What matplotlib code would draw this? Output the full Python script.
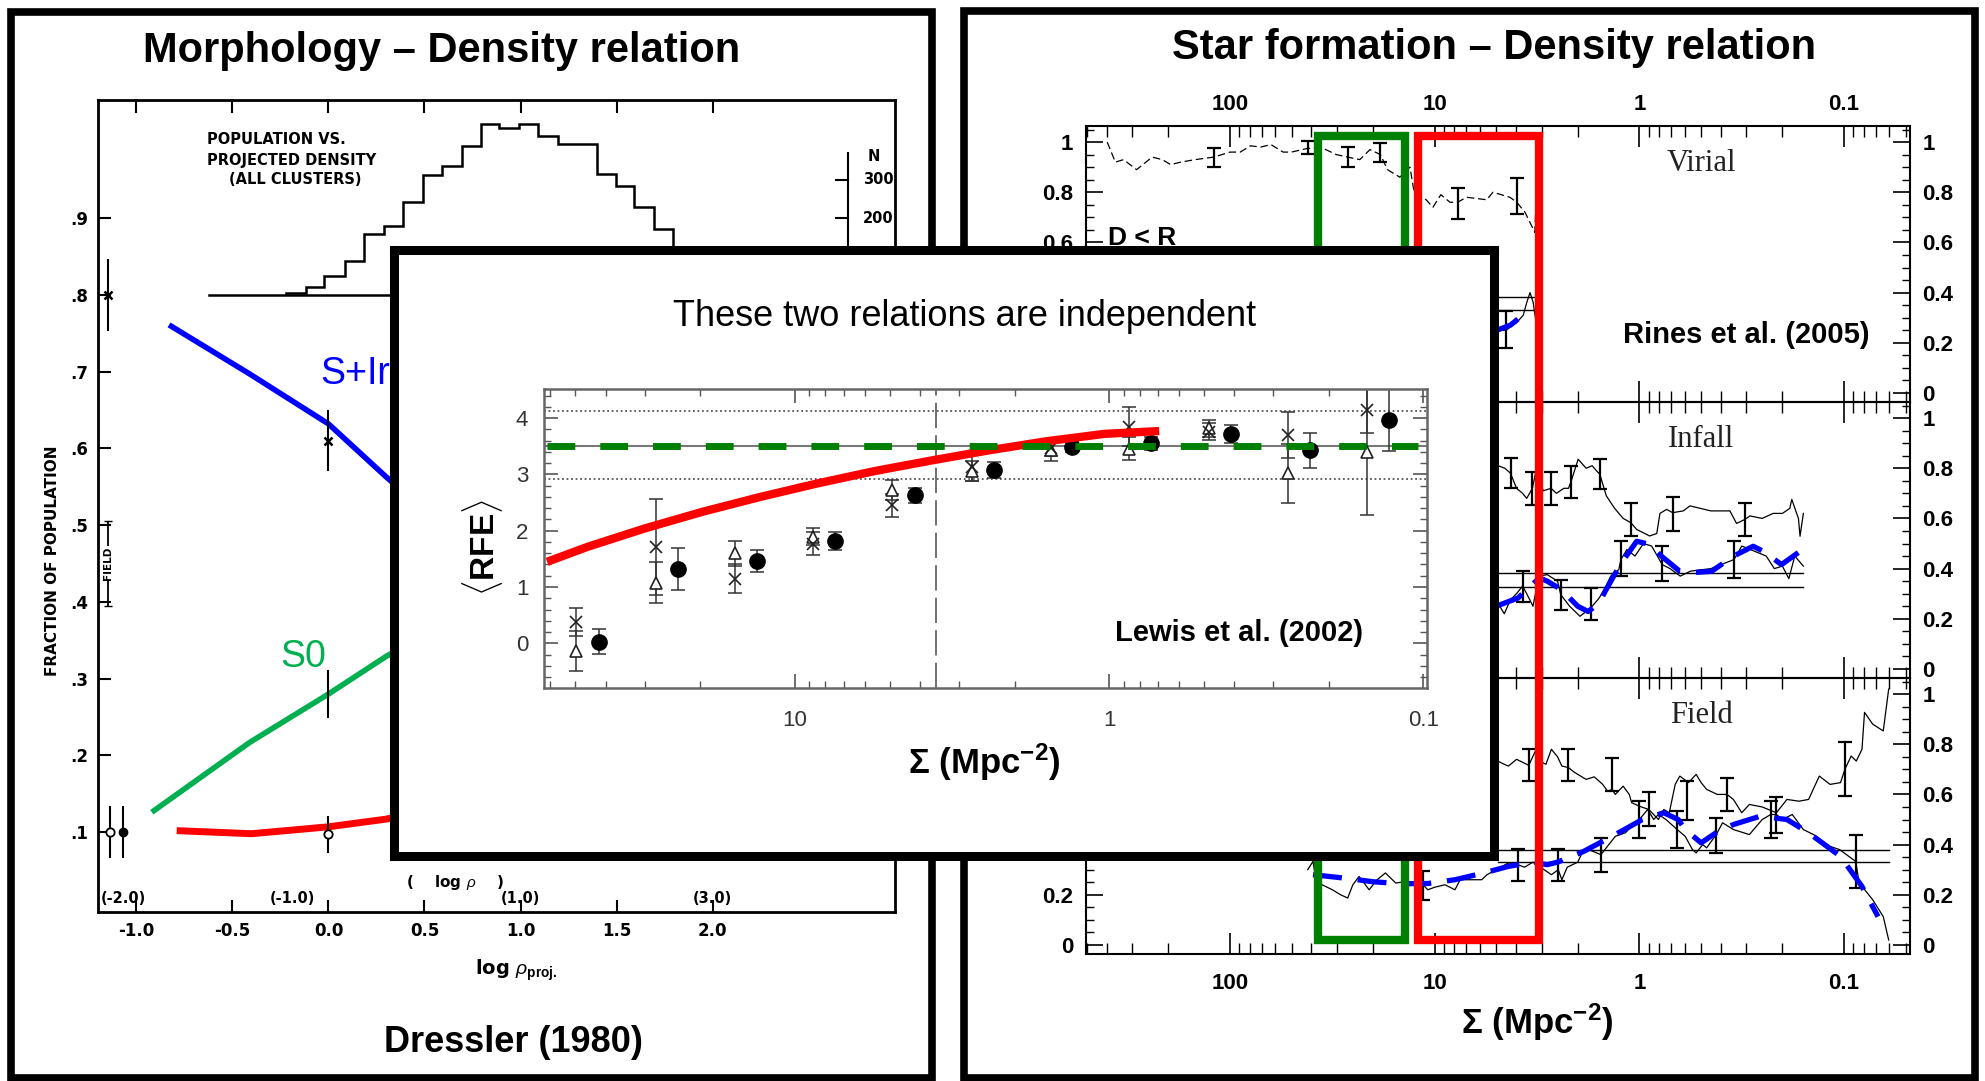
import numpy as np
import matplotlib
matplotlib.use("Agg")
import matplotlib.pyplot as plt
import matplotlib.transforms as mtransforms
from matplotlib.patches import Rectangle
from matplotlib.ticker import LogLocator, MultipleLocator, NullFormatter

plt.rcParams["font.family"] = ["Liberation Sans", "DejaVu Sans"]
plt.rcParams["mathtext.fontset"] = "custom"
plt.rcParams["mathtext.rm"] = "Liberation Sans"
plt.rcParams["mathtext.bf"] = "Liberation Sans:bold"
plt.rcParams["mathtext.it"] = "Liberation Sans:italic"
plt.rcParams["mathtext.default"] = "bf"

W, H = 1985, 1081
SCAN_FONT = ["DejaVu Sans"]

# ---------------- Dressler (1980): morphology vs projected density ----------------
hist_edges = [-0.22, -0.118, -0.025, 0.084, 0.184, 0.287, 0.387, 0.490, 0.590, 0.693,
              0.793, 0.890, 0.990, 1.093, 1.193, 1.396, 1.496, 1.593, 1.693, 1.793, 1.893]
hist_counts = [5, 21, 50, 89, 159, 180, 243, 313, 337, 389,
               446, 436, 446, 415, 394, 316, 285, 230, 172, 110]
hist_base = 0.8        # fraction level of the N = 0 line
hist_scale = 0.0005    # fraction units per galaxy
n_ticks = [200, 300]

sirr_x = [-0.83, -0.41, 0.0, 0.30, 0.45]
sirr_y = [0.761, 0.697, 0.632, 0.563, 0.53]
s0_x = [-0.92, -0.41, 0.0, 0.30, 0.45]
s0_y = [0.126, 0.217, 0.28, 0.329, 0.35]
ell_x = [-0.79, -0.40, 0.0, 0.30, 0.45]
ell_y = [0.102, 0.098, 0.107, 0.117, 0.125]

cross_x, cross_y, cross_err = [-1.15, 0.0], [0.80, 0.61], [0.047, 0.04]
open_x, open_y, open_err = [-1.14, 0.0], [0.10, 0.097], [0.034, 0.024]
dot_x, dot_y, dot_err = [-1.07], [0.10], [0.034]
s0pt_x, s0pt_y, s0pt_err = [0.0], [0.28], [0.031]
field_x, field_y, field_err = -1.148, 0.45, 0.055

# ---------------- Rines et al. (2005): star formation vs density ----------------
vir_up_sig = [398, 363, 331, 286, 240, 214, 195, 174, 148, 120, 100, 89.1, 79.4, 70.8, 63.1,
              55.0, 50.1, 41.7, 35.1, 30.2, 26.6, 23.2, 20.7, 18.4, 17.0, 14.8, 13.2, 12.6,
              11.0, 10.2, 9.33, 8.41, 7.73, 6.98, 5.57, 5.19, 4.29, 3.97, 3.62, 3.24, 3.16]
vir_up_frac = [1.00, 0.92, 0.93, 0.89, 0.94, 0.93, 0.91, 0.92, 0.93, 0.94, 0.96, 0.96, 0.985,
               0.98, 0.99, 0.96, 0.96, 0.975, 0.975, 0.95, 0.94, 0.93, 0.97, 0.95, 0.89, 0.86,
               0.90, 0.80, 0.77, 0.74, 0.79, 0.76, 0.76, 0.78, 0.77, 0.80, 0.78, 0.76, 0.72,
               0.64, 0.88]
vir_up_eb_sig = [120, 41.7, 26.6, 18.4, 7.72, 3.97]
vir_up_eb_frac = [0.94, 0.978, 0.94, 0.958, 0.755, 0.785]
vir_up_eb_err = [0.038, 0.027, 0.04, 0.038, 0.062, 0.073]
vir_lo_sig = [5.25, 4.90, 4.47, 4.17, 3.98, 3.69, 3.55, 3.42, 3.30, 3.18, 3.08]
vir_lo_frac = [0.24, 0.25, 0.25, 0.27, 0.28, 0.31, 0.36, 0.40, 0.36, 0.27, 0.145]
vir_lo_eb_sig, vir_lo_eb_frac, vir_lo_eb_err = [4.47], [0.252], [0.073]
vir_fit_sig = [5.25, 4.89, 4.27, 3.69]
vir_fit_frac = [0.248, 0.252, 0.27, 0.312]
vir_field = [0.381, 0.332]
vir_field_span = [40, 3.1]

inf_up_sig = [5.01, 4.89, 4.54, 4.26, 3.98, 3.72, 3.55, 3.33, 3.18, 2.95, 2.70, 2.54, 2.34,
              2.22, 2.16, 1.99, 1.82, 1.70, 1.62, 1.56, 1.45, 1.32, 1.20, 1.10, 1.03, 0.957,
              0.891, 0.822, 0.793, 0.736, 0.687, 0.610, 0.566, 0.447, 0.361, 0.335, 0.305,
              0.288, 0.251, 0.222, 0.200, 0.184, 0.180, 0.167, 0.164, 0.158]
inf_up_frac = [0.80, 0.81, 0.80, 0.78, 0.72, 0.70, 0.68, 0.72, 0.80, 0.71, 0.72, 0.70, 0.72,
               0.72, 0.745, 0.836, 0.80, 0.81, 0.79, 0.776, 0.69, 0.64, 0.60, 0.583, 0.556,
               0.543, 0.53, 0.54, 0.62, 0.636, 0.623, 0.63, 0.65, 0.63, 0.63, 0.58, 0.596,
               0.61, 0.60, 0.62, 0.62, 0.64, 0.676, 0.60, 0.529, 0.62]
inf_up_eb_sig = [4.26, 3.33, 2.70, 2.16, 1.56, 1.10, 0.687, 0.305]
inf_up_eb_frac = [0.78, 0.72, 0.72, 0.745, 0.776, 0.596, 0.617, 0.596]
inf_up_eb_err = [0.06, 0.067, 0.067, 0.065, 0.06, 0.067, 0.067, 0.067]
inf_lo_sig = [5.01, 4.89, 4.57, 4.26, 3.98, 3.72, 3.55, 3.31, 3.09, 2.82, 2.51, 2.42, 2.19,
              1.95, 1.73, 1.58, 1.48, 1.38, 1.26, 1.23, 1.15, 1.05, 0.955, 0.871, 0.773,
              0.708, 0.631, 0.562, 0.447, 0.345, 0.316, 0.275, 0.240, 0.219, 0.200, 0.186,
              0.174, 0.158]
inf_lo_frac = [0.27, 0.26, 0.22, 0.276, 0.30, 0.33, 0.30, 0.25, 0.37, 0.376, 0.35, 0.296,
               0.25, 0.21, 0.243, 0.28, 0.316, 0.37, 0.396, 0.436, 0.476, 0.45, 0.50, 0.49,
               0.416, 0.40, 0.37, 0.39, 0.40, 0.436, 0.49, 0.47, 0.45, 0.40, 0.41, 0.36,
               0.45, 0.41]
inf_lo_eb_sig = [3.72, 2.42, 1.73, 1.23, 0.773, 0.345]
inf_lo_eb_frac = [0.329, 0.296, 0.26, 0.439, 0.419, 0.436]
inf_lo_eb_err = [0.063, 0.06, 0.063, 0.07, 0.07, 0.073]
inf_fit_sig = [5.01, 3.91, 3.08, 2.82, 2.40, 2.00, 1.78, 1.58, 1.47, 1.24, 1.03, 0.887,
               0.778, 0.634, 0.531, 0.444, 0.348, 0.278, 0.248, 0.202, 0.164]
inf_fit_frac = [0.25, 0.283, 0.363, 0.35, 0.316, 0.25, 0.229, 0.26, 0.309, 0.416, 0.509,
                0.496, 0.449, 0.389, 0.385, 0.389, 0.449, 0.489, 0.469, 0.416, 0.469]
inf_field = [0.383, 0.325]
inf_field_span = [5.1, 0.158]

fld_up_sig = [5.25, 4.92, 4.57, 4.36, 3.98, 3.47, 3.22, 3.02, 2.86, 2.69, 2.51, 2.39, 2.22,
              2.09, 2.00, 1.82, 1.66, 1.51, 1.43, 1.36, 1.31, 1.20, 1.12, 1.09, 1.00, 0.899,
              0.807, 0.759, 0.714, 0.668, 0.634, 0.575, 0.528, 0.499, 0.469, 0.416, 0.373,
              0.347, 0.316, 0.290, 0.251, 0.214, 0.190, 0.166, 0.149, 0.132, 0.117, 0.104,
              0.099, 0.0923, 0.0871, 0.0817, 0.0794, 0.0724, 0.0643, 0.0605]
fld_up_frac = [0.72, 0.733, 0.72, 0.713, 0.74, 0.716, 0.773, 0.73, 0.72, 0.78, 0.75, 0.713,
               0.707, 0.69, 0.68, 0.66, 0.67, 0.64, 0.613, 0.62, 0.60, 0.633, 0.60, 0.567,
               0.553, 0.54, 0.50, 0.54, 0.527, 0.64, 0.673, 0.647, 0.68, 0.647, 0.62, 0.60,
               0.60, 0.58, 0.527, 0.56, 0.55, 0.527, 0.58, 0.573, 0.58, 0.673, 0.64, 0.647,
               0.70, 0.753, 0.733, 0.78, 0.927, 0.88, 0.853, 1.02]
fld_up_eb_sig = [3.47, 2.22, 1.36, 0.90, 0.586, 0.373, 0.214, 0.099]
fld_up_eb_frac = [0.718, 0.718, 0.68, 0.541, 0.577, 0.60, 0.519, 0.70]
fld_up_eb_err = [0.065, 0.065, 0.067, 0.068, 0.077, 0.067, 0.072, 0.108]
fld_lo_sig = [41.7, 39.3, 38.0, 35.5, 31.6, 28.8, 26.6, 25.1, 23.4, 20.9, 19.1, 17.4, 15.5,
              13.7, 11.4, 10.8, 10.0, 8.91, 7.96, 7.50, 6.31, 5.89, 5.55, 5.01, 4.36, 3.92,
              3.64, 3.31, 3.04, 2.69, 2.49, 2.39, 2.25, 2.00, 1.87, 1.77, 1.54, 1.41, 1.31,
              1.17, 1.09, 1.00, 0.910, 0.851, 0.807, 0.741, 0.653, 0.597, 0.550, 0.528,
              0.490, 0.469, 0.421, 0.392, 0.347, 0.290, 0.251, 0.228, 0.214, 0.200, 0.179,
              0.158, 0.141, 0.117, 0.105, 0.0877, 0.0843, 0.0769, 0.0724, 0.0643, 0.0605]
fld_lo_frac = [0.30, 0.333, 0.26, 0.24, 0.22, 0.20, 0.187, 0.24, 0.273, 0.22, 0.26, 0.287,
               0.247, 0.253, 0.24, 0.22, 0.23, 0.24, 0.22, 0.26, 0.26, 0.26, 0.28, 0.30,
               0.327, 0.32, 0.31, 0.33, 0.31, 0.28, 0.30, 0.26, 0.31, 0.33, 0.38, 0.38, 0.36,
               0.40, 0.433, 0.447, 0.473, 0.50, 0.54, 0.50, 0.52, 0.50, 0.46, 0.433, 0.38,
               0.367, 0.40, 0.387, 0.44, 0.487, 0.46, 0.44, 0.50, 0.52, 0.52, 0.50, 0.52,
               0.46, 0.44, 0.393, 0.38, 0.333, 0.247, 0.207, 0.18, 0.113, 0.02]
fld_lo_eb_sig = [11.4, 3.92, 2.49, 1.54, 1.0, 0.653, 0.421, 0.2275, 0.0877]
fld_lo_eb_frac = [0.237, 0.318, 0.318, 0.358, 0.50, 0.46, 0.437, 0.50, 0.333]
fld_lo_eb_err = [0.057, 0.065, 0.065, 0.069, 0.073, 0.073, 0.07, 0.072, 0.107]
fld_fit_sig = [39.3, 26.6, 20.0, 14.6, 10.8, 7.96, 5.89, 4.36, 3.31, 2.82, 2.51, 1.87, 1.31,
               0.966, 0.760, 0.646, 0.597, 0.499, 0.417, 0.347, 0.257, 0.190, 0.149, 0.104,
               0.0817, 0.0682]
fld_fit_frac = [0.28, 0.265, 0.252, 0.244, 0.245, 0.26, 0.285, 0.313, 0.33, 0.32, 0.33,
                0.373, 0.44, 0.50, 0.527, 0.50, 0.46, 0.407, 0.45, 0.48, 0.513, 0.50, 0.447,
                0.353, 0.233, 0.113]
fld_field = [0.38, 0.329]
fld_field_span = [4.9, 0.060]

green_box_sig = [37.2, 13.97]
red_box_sig = [12.1, 3.09]

sigma_ticks = [100, 10, 1, 0.1]
sigma_labels = ["100", "10", "1", "0.1"]
frac_ticks = [0, 0.2, 0.4, 0.6, 0.8, 1.0]
frac_labels = ["0", "0.2", "0.4", "0.6", "0.8", "1"]
# left-hand labels that stay uncovered by the inset, per panel
left_labels_shown = [{1.0, 0.8, 0.6}, set(), {0.0, 0.2}]

# ---------------- Lewis et al. (2002): RFE vs density ----------------
tri_sig = [49.8, 27.6, 15.5, 8.79, 4.91, 2.73, 1.53, 0.865, 0.48, 0.269, 0.151]
tri_rfe = [-0.14, 1.08, 1.60, 1.89, 2.72, 3.06, 3.43, 3.46, 3.82, 3.02, 3.40]
tri_err = [0.36, 0.37, 0.22, 0.15, 0.18, 0.18, 0.20, 0.20, 0.15, 0.52, 1.12]
crs_rfe = [0.38, 1.71, 1.15, 1.77, 2.45, 3.14, 3.47, 3.85, 3.76, 3.70, 4.14]
crs_err = [0.25, 0.86, 0.25, 0.20, 0.20, 0.25, 0.15, 0.35, 0.15, 0.40, 0.40]
cir_sig = [42.1, 23.5, 13.2, 7.43, 4.15, 2.32, 1.31, 0.734, 0.41, 0.23, 0.129]
cir_rfe = [0.03, 1.32, 1.46, 1.82, 2.63, 3.08, 3.49, 3.55, 3.71, 3.43, 3.96]
cir_err = [0.22, 0.38, 0.19, 0.16, 0.13, 0.14, 0.09, 0.12, 0.16, 0.31, 0.55]
rfe_field_mean = 3.51
rfe_field_band = [2.91, 4.12]
sigma_break = 3.57
trend_sig = [61.5, 45.7, 30.1, 19.7, 12.9, 8.49, 5.57, 3.66, 2.40, 1.58, 1.035, 0.693]
trend_rfe = [1.448, 1.714, 2.04, 2.336, 2.60, 2.84, 3.06, 3.25, 3.43, 3.59, 3.72, 3.77]


def px_rect(x0, y0, x1, y1):
    """pixel box measured from the top-left corner -> figure-fraction rect"""
    return [x0 / W, 1 - y1 / H, (x1 - x0) / W, (y1 - y0) / H]


fig = plt.figure(figsize=(W / 100, H / 100), dpi=100)

# slide frames around the two halves
for x0, y0, x1, y1 in [(11, 12, 932, 1078), (964, 11, 1975, 1078)]:
    fig.patches.append(Rectangle((x0 / W, 1 - y1 / H), (x1 - x0) / W, (y1 - y0) / H,
                                 transform=fig.transFigure, fill=False, ec="black",
                                 lw=5.5, zorder=1))

fig.text(442 / W, 1 - 51 / H, "Morphology \u2013 Density relation", ha="center", va="center",
         fontsize=30, fontweight="bold")
fig.text(1494 / W, 1 - 48 / H, "Star formation \u2013 Density relation", ha="center",
         va="center", fontsize=30, fontweight="bold")
fig.text(513 / W, 1 - 1042 / H, "Dressler (1980)", ha="center", va="center", fontsize=26,
         fontweight="bold")
fig.text(1537 / W, 1 - 1022 / H, "\u03a3 (Mpc$^{-2}$)", ha="center", va="center",
         fontsize=25, fontweight="bold")

# ---- left: Dressler plot ----
axd = fig.add_axes(px_rect(98, 100, 895, 912), zorder=0)
axd.set_xlim(-1.20, 2.95)
axd.set_ylim(-0.004, 1.054)
for s in axd.spines.values():
    s.set_linewidth(2.0)
xt = [-1.0, -0.5, 0.0, 0.5, 1.0, 1.5, 2.0]
axd.set_xticks(xt, [f"{v:.1f}" for v in xt], fontweight="bold", fontsize=12,
               family=SCAN_FONT)
yt = [0.1, 0.2, 0.3, 0.4, 0.5, 0.6, 0.7, 0.8, 0.9]
axd.set_yticks(yt, [f"{v:.1f}"[1:] for v in yt], fontweight="bold", fontsize=12,
               family=SCAN_FONT)
axd.tick_params(direction="in", length=9, width=1.5, top=True, pad=7)
axd.text(-0.0577, 0.432, "FRACTION OF POPULATION", transform=axd.transAxes, rotation=90,
         ha="center", va="center", fontsize=11, fontweight="bold", family=SCAN_FONT)
axd.text(0.5245, -0.072, r"log $\mathit{\rho}_{\mathbf{proj.}}$", transform=axd.transAxes,
         ha="center", va="center", fontsize=14, fontweight="bold", family=SCAN_FONT)

# secondary log rho scale printed above the axis
for xv, lab in [(-1.07, "(-2.0)"), (-0.19, "(-1.0)"), (1.0, "(1.0)"), (2.0, "(3.0)")]:
    axd.text(xv, 0.013, lab, ha="center", va="center", fontsize=10.5, fontweight="bold",
             family=SCAN_FONT)
axd.text(0.66, 0.035, r"(    log $\mathit{\rho}$    )", ha="center", va="center",
         fontsize=11, fontweight="bold", family=SCAN_FONT)

# population histogram in the upper part
hvals = hist_base + np.array(hist_counts) * hist_scale
axd.stairs(hvals, hist_edges, baseline=hist_base, color="black", lw=1.8)
axd.plot([-0.62, 2.70], [hist_base, hist_base], color="black", lw=1.8)
n_axis_x = 2.705
axd.plot([n_axis_x, n_axis_x], [hist_base, hist_base + 370 * hist_scale], color="black", lw=1.5)
for n in n_ticks:
    yy = hist_base + n * hist_scale
    axd.plot([n_axis_x - 0.06, n_axis_x], [yy, yy], color="black", lw=1.5)
    axd.text(n_axis_x + 0.08, yy, str(n), ha="left", va="center", fontsize=10.5,
             fontweight="bold", family=SCAN_FONT)
axd.text(n_axis_x + 0.1, hist_base + 360 * hist_scale, "N", ha="left", va="center",
         fontsize=10.5, fontweight="bold", family=SCAN_FONT)
for yv, (xv, lab) in zip([1.003, 0.975, 0.950], [(-0.633, "POPULATION VS."),
                                                  (-0.633, "PROJECTED DENSITY"),
                                                  (-0.52, "(ALL CLUSTERS)")]):
    axd.text(xv, yv, lab, ha="left", va="center", fontsize=10.5, fontweight="bold",
             family=SCAN_FONT)

axd.plot(sirr_x, sirr_y, color="#0000ff", lw=4, solid_capstyle="butt")
axd.plot(s0_x, s0_y, color="#00b050", lw=4, solid_capstyle="butt")
axd.plot(ell_x, ell_y, color="#ff0000", lw=5, solid_capstyle="butt")
axd.text(-0.044, 0.6975, "S+Irr", color="#0000ff", fontsize=27, ha="left", va="center")
axd.text(-0.253, 0.3286, "S0", color="#00b050", fontsize=27, ha="left", va="center")

eb = dict(fmt="none", ecolor="black", elinewidth=1.5, capsize=0)
axd.errorbar(cross_x, cross_y, yerr=cross_err, **eb)
axd.errorbar(open_x, open_y, yerr=open_err, **eb)
axd.errorbar(dot_x, dot_y, yerr=dot_err, **eb)
axd.errorbar(s0pt_x, s0pt_y, yerr=s0pt_err, **eb)
axd.errorbar([field_x], [field_y], yerr=[field_err], fmt="none", ecolor="black",
             elinewidth=1.3, capsize=3)
axd.text(field_x, field_y, "FIELD", rotation=90, ha="center", va="center", fontsize=7.5,
         fontweight="bold", family=SCAN_FONT,
         bbox=dict(boxstyle="square,pad=0.1", fc="white", ec="none"))
axd.plot(cross_x, cross_y, "x", color="black", ms=6, mew=1.8)
axd.plot(open_x, open_y, "o", mfc="white", mec="black", ms=6, mew=1.3)
axd.plot(dot_x, dot_y, "o", color="black", ms=6)

# ---- right: Rines three-panel plot ----
panel_px = [(126, 402), (402, 678), (678, 954)]
axr = []
for (y0, y1), shown in zip(panel_px, left_labels_shown):
    ax = fig.add_axes(px_rect(1085.5, y0, 1910, y1), sharex=axr[0] if axr else None, zorder=0)
    ax.set_facecolor("none")
    ax.set_xscale("log")
    ax.set_xlim(508, 0.0476)
    ax.set_ylim(-0.036, 1.064)
    for s in ax.spines.values():
        s.set_linewidth(1.5)
    ax.set_yticks(frac_ticks, frac_labels, fontweight="bold", fontsize=16)
    ax.yaxis.set_minor_locator(MultipleLocator(0.05))
    ax.tick_params(axis="y", which="both", direction="in", left=True, right=True,
                   labelleft=True, labelright=True, pad=9)
    ax.tick_params(axis="y", which="major", length=12, width=1.2)
    ax.tick_params(axis="y", which="minor", length=6, width=1.0)
    for tv, tick in zip(frac_ticks, ax.yaxis.get_major_ticks(len(frac_ticks))):
        tick.label1.set_visible(any(abs(tv - s) < 1e-6 for s in shown))
    axr.append(ax)

ax1, ax2, ax3 = axr
for ax in axr:
    ax.set_xticks(sigma_ticks, sigma_labels, fontweight="bold", fontsize=16)
    ax.xaxis.set_minor_locator(LogLocator(base=10, subs=range(2, 10), numticks=20))
    ax.xaxis.set_minor_formatter(NullFormatter())
    ax.tick_params(axis="x", which="both", direction="in", top=True, bottom=True,
                   labelbottom=False, labeltop=False)
    ax.tick_params(axis="x", which="major", length=15, width=1.2)
    ax.tick_params(axis="x", which="minor", length=8, width=1.0)
ax1.tick_params(axis="x", labeltop=True, pad=8)
ax3.tick_params(axis="x", labelbottom=True, pad=14)


def curve(ax, sig, frac, **kw):
    ax.plot(sig, frac, color="black", lw=0.9, **kw)


def bars(ax, sig, frac, err):
    ax.errorbar(sig, frac, yerr=err, fmt="none", ecolor="black", elinewidth=1.6,
                capsize=5, capthick=1.6)


def field_lines(ax, levels, span):
    for lv in levels:
        ax.plot(span, [lv, lv], color="black", lw=1.0)


def fit(ax, sig, frac):
    ax.plot(sig, frac, color="#0000ff", lw=3.8, ls=(0, (5.5, 3)))


curve(ax1, vir_up_sig, vir_up_frac, ls=(0, (6, 3)))
bars(ax1, vir_up_eb_sig, vir_up_eb_frac, vir_up_eb_err)
curve(ax1, vir_lo_sig, vir_lo_frac)
bars(ax1, vir_lo_eb_sig, vir_lo_eb_frac, vir_lo_eb_err)
field_lines(ax1, vir_field, vir_field_span)
fit(ax1, vir_fit_sig, vir_fit_frac)

curve(ax2, inf_up_sig, inf_up_frac)
bars(ax2, inf_up_eb_sig, inf_up_eb_frac, inf_up_eb_err)
curve(ax2, inf_lo_sig, inf_lo_frac)
bars(ax2, inf_lo_eb_sig, inf_lo_eb_frac, inf_lo_eb_err)
field_lines(ax2, inf_field, inf_field_span)
fit(ax2, inf_fit_sig, inf_fit_frac)

curve(ax3, fld_up_sig, fld_up_frac)
bars(ax3, fld_up_eb_sig, fld_up_eb_frac, fld_up_eb_err)
curve(ax3, fld_lo_sig, fld_lo_frac)
bars(ax3, fld_lo_eb_sig, fld_lo_eb_frac, fld_lo_eb_err)
field_lines(ax3, fld_field, fld_field_span)
fit(ax3, fld_fit_sig, fld_fit_frac)

for ax, name in zip(axr, ["Virial", "Infall", "Field"]):
    ax.text(0.5, 0.915, name, ha="center", va="center", fontsize=22, color="#222222",
            family=["Liberation Serif"])
ax1.text(394, 0.665, "D < R", ha="left", va="top", fontsize=19, fontweight="bold")
ax1.text(0.30, 0.232, "Rines et al. (2005)", ha="center", va="center", fontsize=21,
         fontweight="bold")

# density windows marked across all three panels
box_tr = mtransforms.blended_transform_factory(ax3.transData, fig.transFigure)
for (s_hi, s_lo), col in [(green_box_sig, "#008000"), (red_box_sig, "#ff0000")]:
    fig.patches.append(Rectangle((s_hi, 1 - 940 / H), s_lo - s_hi, (940 - 136) / H,
                                 transform=box_tr, fill=False, ec=col, lw=6, zorder=2))

# ---- centre: Lewis et al. inset ----
axb = fig.add_axes(px_rect(394, 250, 1494, 856), zorder=5)
axb.set_xticks([])
axb.set_yticks([])
for s in axb.spines.values():
    s.set_linewidth(6.5)

axl = fig.add_axes(px_rect(543.6, 389.4, 1426.8, 687.8), zorder=6)
axl.set_facecolor("none")
axl.set_xscale("log")
axl.set_xlim(63.1, 0.0975)
axl.set_ylim(-0.79, 4.51)
for s in axl.spines.values():
    s.set_linewidth(1.8)
    s.set_color("#666666")
axl.set_xticks([10, 1, 0.1], ["10", "1", "0.1"], fontsize=16, color="#333333")
axl.xaxis.set_minor_locator(LogLocator(base=10, subs=range(2, 10), numticks=20))
axl.xaxis.set_minor_formatter(NullFormatter())
axl.set_yticks([0, 1, 2, 3, 4], ["0", "1", "2", "3", "4"], fontsize=16, color="#333333")
axl.yaxis.set_minor_locator(MultipleLocator(0.2))
axl.tick_params(which="both", direction="in", top=True, right=True, color="#555555")
axl.tick_params(which="major", length=10, width=1.2)
axl.tick_params(which="minor", length=5, width=1.0)
axl.tick_params(axis="x", pad=16)
axl.tick_params(axis="y", pad=11)

for lv in rfe_field_band:
    axl.axhline(lv, color="#555555", lw=1.3, ls=(0, (1, 1.5)))
axl.axhline(rfe_field_mean, color="#777777", lw=1.5)
axl.axvline(sigma_break, color="#666666", lw=1.3, ls=(0, (14, 4)))

ebl = dict(fmt="none", ecolor="#333333", elinewidth=1.1, capsize=5, capthick=1.1)
axl.errorbar(tri_sig, tri_rfe, yerr=tri_err, **ebl)
axl.errorbar(tri_sig, crs_rfe, yerr=crs_err, **ebl)
axl.errorbar(cir_sig, cir_rfe, yerr=cir_err, **ebl)
axl.plot(tri_sig, tri_rfe, "^", mfc="white", mec="#222222", ms=9, mew=1.2, ls="none")
axl.plot(tri_sig, crs_rfe, "x", color="#222222", ms=8, mew=1.2, ls="none")
axl.plot(cir_sig, cir_rfe, "o", color="black", ms=11, ls="none")

axl.plot(trend_sig, trend_rfe, color="#ff0000", lw=6, solid_capstyle="butt")
axl.axhline(rfe_field_mean, xmin=0.004, xmax=0.99, color="#008000", lw=5, ls=(0, (4, 3.6)))

axl.text(-0.0697, 0.4685, r"$\langle$RFE$\rangle$", transform=axl.transAxes, rotation=90,
         ha="center", va="center", fontsize=24, fontweight="bold")
axl.text(0.4992, -0.248, "\u03a3 (Mpc$^{-2}$)", transform=axl.transAxes, ha="center",
         va="center", fontsize=25, fontweight="bold")
fig.text(965 / W, 1 - 316.5 / H, "These two relations are independent", ha="center",
         va="center", fontsize=26, zorder=8)
fig.text(1239 / W, 1 - 633 / H, "Lewis et al. (2002)", ha="center", va="center",
         fontsize=21, fontweight="bold", zorder=8)

fig.savefig("out.png", dpi=100, facecolor="white")
